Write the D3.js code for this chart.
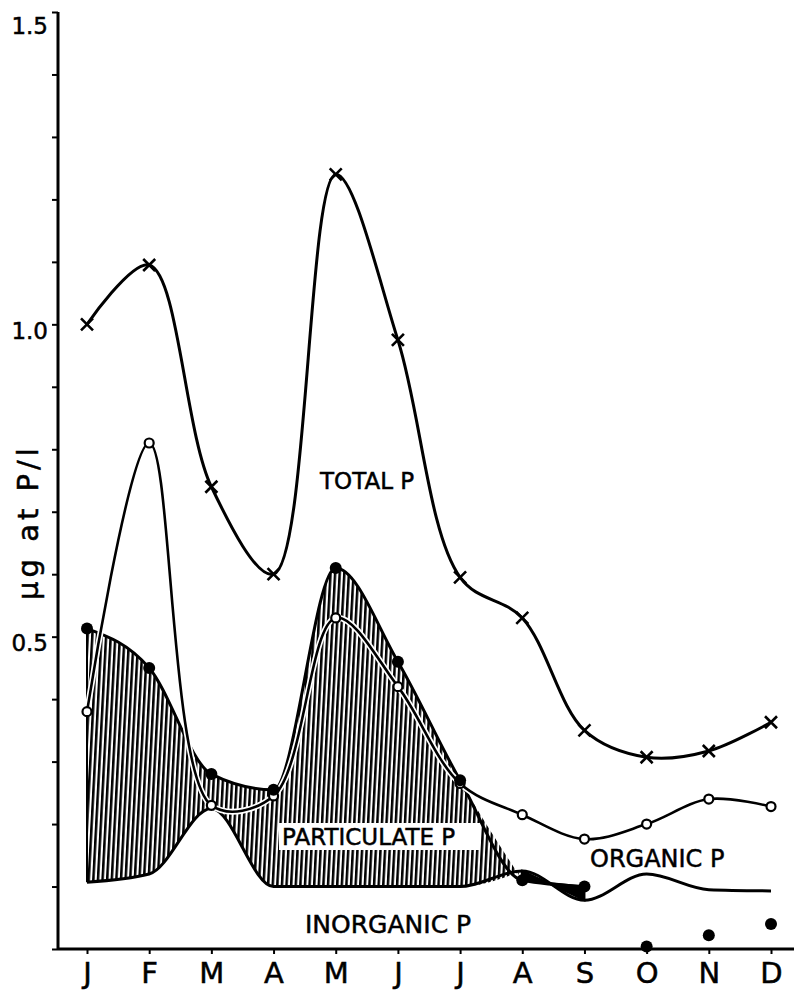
<!DOCTYPE html>
<html>
<head>
<meta charset="utf-8">
<script src="https://cdn.jsdelivr.net/npm/d3@7"></script>
<style>
  body { margin: 0; background: #fff; }
  text { font-family: "DejaVu Sans", "Liberation Sans", sans-serif; fill: #000; stroke: #000; stroke-width: 0.5px; }
</style>
</head>
<body>
<script>
// data (µg at P/l, by month)
const months = ['J', 'F', 'M', 'A', 'M', 'J', 'J', 'A', 'S', 'O', 'N', 'D'];
const totalP = [1.00, 1.095, 0.74, 0.60, 1.24, 0.975, 0.595, 0.53, 0.35, 0.307, 0.317, 0.363];
const organicP = [0.38, 0.81, 0.23, 0.245, 0.53, 0.42, 0.265, 0.215, 0.176, 0.20, 0.24, 0.228];
const upperP = [0.513, 0.45, 0.28, 0.255, 0.61, 0.46, 0.27, 0.11, 0.10, 0.004, 0.022, 0.04];
const inorganicP = [0.107, 0.12, 0.225, 0.10, 0.10, 0.10, 0.10, 0.125, 0.078, 0.12, 0.095, 0.093];
const yTicks = [0.5, 1.0, 1.5];
const labels = ['TOTAL P', 'ORGANIC P', 'PARTICULATE P', 'INORGANIC P'];

// set variables
const w = 794;
const h = 995;
const left = 58;
const bottom = 949;

const svg = d3.select('body')
    .append('svg')
    .attr('width', w)
    .attr('height', h);

// scales
const idx = d3.range(months.length);
const xScale = d3.scalePoint().domain(idx).range([87, 771]);
const yScale = d3.scaleLinear().domain([0, 1.5]).range([bottom, 12]);

// hatch pattern for the particulate band
const defs = svg.append('defs');
const pat = defs.append('pattern')
    .attr('id', 'hatch')
    .attr('patternUnits', 'userSpaceOnUse')
    .attr('width', 4.6)
    .attr('height', 10)
    .attr('patternTransform', 'rotate(3)');
pat.append('rect').attr('width', 4.6).attr('height', 10).attr('fill', '#fff');
pat.append('rect').attr('x', 0).attr('width', 2.5).attr('height', 10).attr('fill', '#000');

const curve = d3.curveCatmullRom.alpha(0.5);
const bandCurve = d3.curveMonotoneX;

const band = d3.area()
    .x(i => xScale(i))
    .y0(i => yScale(inorganicP[i]))
    .y1(i => yScale(upperP[i]))
    .curve(bandCurve);

svg.append('path')
    .attr('d', band(idx.slice(0, 8)))
    .attr('fill', 'url(#hatch)');

svg.append('path')
    .attr('d', band(idx.slice(7, 9)))
    .attr('fill', '#000')
    .attr('stroke', '#000')
    .attr('stroke-width', 2);

// lines
const lineOf = (arr, c) => d3.line().x(i => xScale(i)).y(i => yScale(arr[i])).curve(c);

// left edge of the band
svg.append('line')
    .attr('x1', xScale(0)).attr('x2', xScale(0))
    .attr('y1', yScale(upperP[0])).attr('y2', yScale(inorganicP[0]))
    .attr('stroke', '#000').attr('stroke-width', 2);

svg.append('path')
    .attr('d', lineOf(upperP, bandCurve)(idx.slice(0, 9)))
    .attr('fill', 'none').attr('stroke', '#000').attr('stroke-width', 3);

svg.append('path')
    .attr('d', lineOf(inorganicP, bandCurve)(idx))
    .attr('fill', 'none').attr('stroke', '#000').attr('stroke-width', 3);

svg.append('path')
    .attr('d', lineOf(organicP, curve)(idx))
    .attr('fill', 'none').attr('stroke', '#fff').attr('stroke-width', 6);
svg.append('path')
    .attr('d', lineOf(organicP, curve)(idx))
    .attr('fill', 'none').attr('stroke', '#000').attr('stroke-width', 2.6);

svg.append('path')
    .attr('d', lineOf(totalP, curve)(idx))
    .attr('fill', 'none').attr('stroke', '#000').attr('stroke-width', 3);

// markers
svg.append('g').selectAll('path')
    .data(idx)
    .enter()
    .append('path')
    .attr('d', i => {
        const x = xScale(i), y = yScale(totalP[i]), s = 6;
        return `M${x - s},${y - s}L${x + s},${y + s}M${x - s},${y + s}L${x + s},${y - s}`;
    })
    .attr('stroke', '#000')
    .attr('stroke-width', 2.6);

svg.append('g').selectAll('circle')
    .data(idx)
    .enter()
    .append('circle')
    .attr('cx', i => xScale(i))
    .attr('cy', i => yScale(organicP[i]))
    .attr('r', 4.5)
    .attr('fill', '#fff')
    .attr('stroke', '#000')
    .attr('stroke-width', 2.2);

svg.append('g').selectAll('circle')
    .data(idx)
    .enter()
    .append('circle')
    .attr('cx', i => xScale(i))
    .attr('cy', i => yScale(upperP[i]))
    .attr('r', 6)
    .attr('fill', '#000');

// labels
const lab = svg.append('g').style('font-size', '23px');
lab.append('text').attr('x', 320).attr('y', 489).text(labels[0]);
lab.append('text').attr('x', 590).attr('y', 867).style('font-size', '24px').text(labels[1]);
lab.append('rect')
    .attr('x', 279).attr('y', 823).attr('width', 201).attr('height', 27)
    .attr('fill', '#fff');
lab.append('text').attr('x', 282).attr('y', 845).text(labels[2]);
lab.append('text').attr('x', 305).attr('y', 933).style('font-size', '25px').text(labels[3]);

// axes
const xAxis = d3.axisBottom(xScale)
    .tickFormat(i => months[i])
    .tickSize(5)
    .tickPadding(8);

svg.append('g')
    .attr('class', 'x-axis')
    .attr('transform', `translate(0,${bottom})`)
    .call(xAxis)
    .call(g => g.select('.domain').attr('d', `M${left},0H${w}`).attr('stroke-width', 3))
    .call(g => g.selectAll('.tick line').attr('stroke-width', 2))
    .call(g => g.selectAll('.tick text')
        .style('font-size', '29px')
        .style('font-family', '"DejaVu Sans", sans-serif')
        .attr('fill', '#000'));

const yAxis = d3.axisLeft(yScale)
    .tickValues(d3.range(0, 16).map(d => d / 10))
    .tickFormat(d => yTicks.some(t => Math.abs(t - d) < 1e-6) ? d3.format('.1f')(d) : '')
    .tickSize(6)
    .tickPadding(4);

svg.append('g')
    .attr('class', 'y-axis')
    .attr('transform', `translate(${left},0)`)
    .call(yAxis)
    .call(g => g.select('.domain').attr('d', `M0,${yScale(1.5)}V${bottom}`).attr('stroke-width', 3))
    .call(g => g.selectAll('.tick line').attr('stroke-width', 2))
    .call(g => g.selectAll('.tick text')
        .style('font-size', '23px')
        .style('font-family', '"DejaVu Sans", sans-serif')
        .attr('dy', d => d === 1.5 ? '0.95em' : '0.6em')
        .attr('fill', '#000'));

// y axis title
svg.append('text')
    .attr('transform', `translate(38,522) rotate(-90)`)
    .attr('text-anchor', 'middle')
    .style('font-size', '29px')
    .style('letter-spacing', '4px')
    .text('µg at P/l');
</script>
</body>
</html>
